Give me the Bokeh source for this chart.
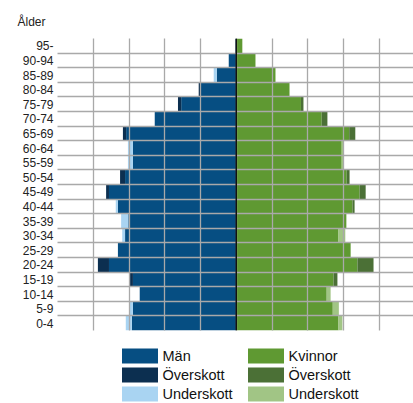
from bokeh.plotting import figure
from bokeh.layouts import column
from bokeh.models import (Range1d, FixedTicker, Span, Legend, LegendItem,
                          ColumnDataSource, CustomJSTickFormatter)
from bokeh.embed import file_html
from bokeh.resources import INLINE

ages = ["0-4", "5-9", "10-14", "15-19", "20-24", "25-29", "30-34", "35-39",
        "40-44", "45-49", "50-54", "55-59", "60-64", "65-69", "70-74",
        "75-79", "80-84", "85-89", "90-94", "95-"]

men = [292, 289, 270, 289, 356, 331, 311, 302, 331, 356, 311, 289, 289, 308,
       228, 154, 101, 54, 21, 2]
men_over = [0, 0, 0, 8, 31, 0, 0, 0, 0, 8, 14, 0, 0, 9, 0, 9, 4, 0, 0, 0]
men_under = [17, 11, 0, 0, 0, 0, 8, 20, 6, 0, 0, 14, 14, 0, 0, 0, 0, 9, 0, 0]

women = [286, 270, 253, 272, 339, 320, 286, 308, 325, 345, 309, 295, 295,
         316, 239, 181, 149, 109, 53, 17]
women_over = [0, 0, 0, 11, 45, 0, 0, 0, 6, 17, 8, 0, 0, 17, 16, 7, 0, 0, 0, 0]
women_under = [11, 17, 11, 0, 0, 0, 19, 0, 0, 0, 0, 6, 6, 0, 0, 0, 0, 2, 2, 0]

legend_labels = ["Män", "Överskott", "Underskott",
                 "Kvinnor", "Överskott", "Underskott"]

grid_x = [-500, -400, -300, -200, -100, 0, 100, 200, 300, 400]

C_MEN, C_MEN_OVER, C_MEN_UNDER = "#064e82", "#0c2f50", "#a9d4f2"
C_WOM, C_WOM_OVER, C_WOM_UNDER = "#5f9932", "#4b7036", "#a1c585"
COLORS = [C_MEN, C_MEN_OVER, C_MEN_UNDER, C_WOM, C_WOM_OVER, C_WOM_UNDER]
FONT = "Liberation Sans"

y = [i + 0.5 for i in range(len(ages))]
src = ColumnDataSource(dict(
    y=y,
    m_l=[-v for v in men],
    m_r=[0] * len(men),
    mo_l=[-(a + b) for a, b in zip(men, men_over)],
    mo_r=[-a for a in men],
    mu_l=[-(a + b) for a, b in zip(men, men_under)],
    mu_r=[-a for a in men],
    w_l=[0] * len(women),
    w_r=women,
    wo_l=women,
    wo_r=[a + b for a, b in zip(women, women_over)],
    wu_l=women,
    wu_r=[a + b for a, b in zip(women, women_under)],
))

p = figure(width=413, height=335, output_backend="svg", toolbar_location=None,
           x_range=Range1d(-500, 495.8), y_range=Range1d(0, 20),
           min_border_left=57, min_border_right=0, min_border_top=38,
           min_border_bottom=5, title="Ålder")
p.title.text_font = FONT
p.title.text_font_size = "12px"
p.title.text_font_style = "normal"
p.title.text_color = "#222222"
p.title.align = "left"
p.title.offset = -40
p.title.standoff = 19
p.outline_line_color = None
p.background_fill_color = "white"

kw = dict(y="y", height=1.0, source=src, line_color=None)
p.hbar(left="m_l", right="m_r", fill_color=C_MEN, **kw)
p.hbar(left="mo_l", right="mo_r", fill_color=C_MEN_OVER, **kw)
p.hbar(left="mu_l", right="mu_r", fill_color=C_MEN_UNDER, **kw)
p.hbar(left="w_l", right="w_r", fill_color=C_WOM, **kw)
p.hbar(left="wo_l", right="wo_r", fill_color=C_WOM_OVER, **kw)
p.hbar(left="wu_l", right="wu_r", fill_color=C_WOM_UNDER, **kw)

p.xaxis.visible = False
p.yaxis.ticker = FixedTicker(ticks=y)
p.yaxis.formatter = CustomJSTickFormatter(
    args=dict(labels=ages), code="return labels[Math.floor(tick)] || '';")
p.yaxis.axis_line_color = None
p.yaxis.major_tick_line_color = None
p.yaxis.minor_tick_line_color = None
p.yaxis.major_tick_out = 0
p.yaxis.major_tick_in = 0
p.yaxis.major_label_standoff = 4
p.yaxis.major_label_text_font = FONT
p.yaxis.major_label_text_font_size = "12px"
p.yaxis.major_label_text_color = "#222222"

p.ygrid.ticker = FixedTicker(ticks=list(range(len(ages) + 1)))
p.xgrid.ticker = FixedTicker(ticks=grid_x)
for g in (p.xgrid, p.ygrid):
    g.grid_line_color = "#a9a9a9"
    g.grid_line_width = 1.3
    g.level = "annotation"

p.add_layout(Span(location=0, dimension="height", line_color="#111111",
                  line_width=1.5, level="overlay"))

# legend in its own small figure below the chart (frames are aligned in a column)
lg = figure(width=413, height=68, output_backend="svg", toolbar_location=None,
            x_range=Range1d(0, 1), y_range=Range1d(0, 1),
            min_border_left=0, min_border_right=0, min_border_top=0,
            min_border_bottom=0)
lg.axis.visible = False
lg.grid.visible = False
lg.outline_line_color = None
# legend proxies: one off-screen bar each so the swatches get drawn
proxy = ColumnDataSource(dict(y=[-10], left=[0], right=[1]))
items = []
for lab, col in zip(legend_labels, COLORS):
    r = lg.hbar(y="y", left="left", right="right", height=1, source=proxy,
                fill_color=col, line_color=None)
    items.append(LegendItem(label=lab, renderers=[r]))

legend = Legend(items=items, nrows=3, orientation="vertical",
                location=(59.5, 0),
                glyph_width=45, glyph_height=19, label_height=19,
                label_width=80, label_standoff=1, spacing=0, padding=0,
                margin=0, border_line_color=None, background_fill_alpha=0,
                label_text_font=FONT, label_text_font_size="14.5px",
                label_text_color="#111111")
lg.add_layout(legend, "center")

open("out.html", "w").write(file_html(column(p, lg), INLINE))
